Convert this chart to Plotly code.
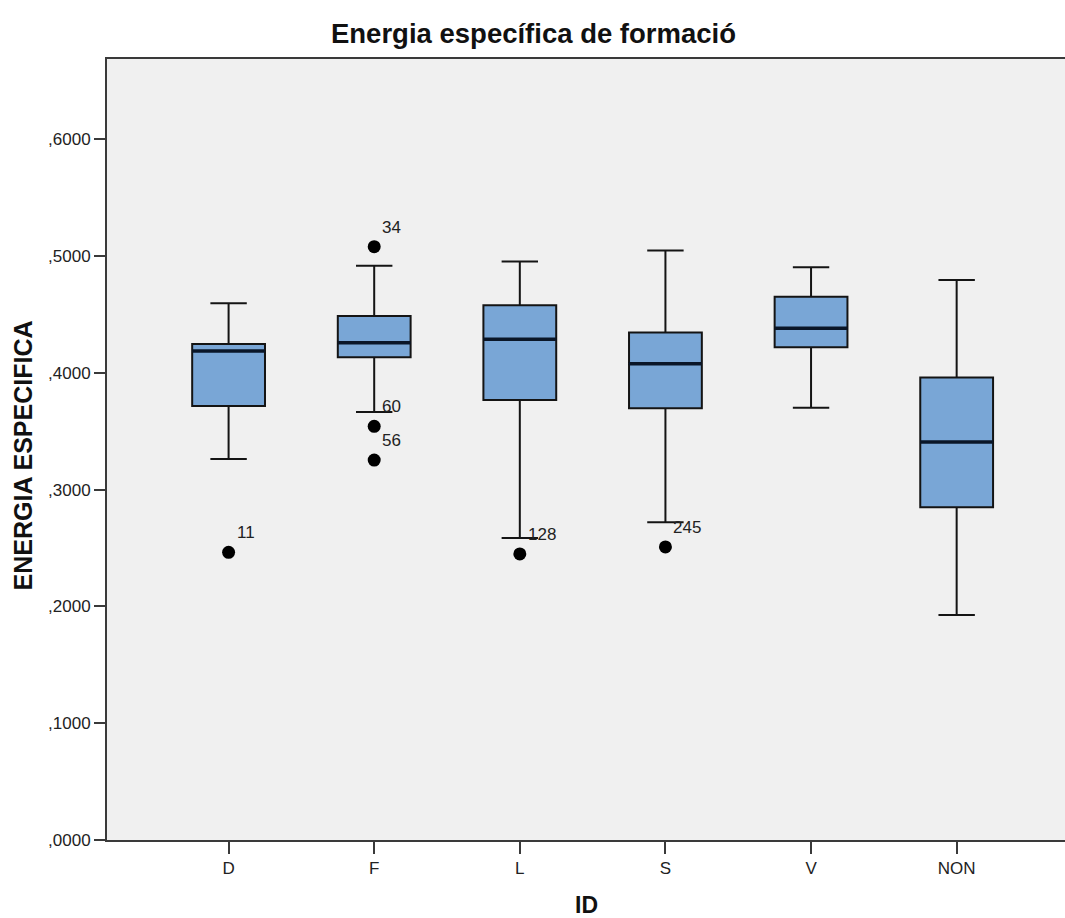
import plotly.graph_objects as go

# Box-plot statistics of ENERGIA ESPECIFICA per ID group
categories = ["D", "F", "L", "S", "V", "NON"]
q1 = [0.3716, 0.4133, 0.3767, 0.3696, 0.4218, 0.2848]
median = [0.4187, 0.4258, 0.4287, 0.4078, 0.4381, 0.3408]
q3 = [0.4247, 0.4486, 0.4578, 0.4346, 0.4652, 0.3961]
lower_whisker = [0.3262, 0.3664, 0.2586, 0.2720, 0.3701, 0.1926]
upper_whisker = [0.4595, 0.4917, 0.4954, 0.5048, 0.4903, 0.4795]

# Outlying cases with their case numbers
outlier_cat = ["D", "F", "F", "F", "L", "S"]
outlier_val = [0.2463, 0.5080, 0.3542, 0.3253, 0.2449, 0.2509]
outlier_id = ["11", "34", "60", "56", "128", "245"]

y_tickvals = [0.0, 0.1, 0.2, 0.3, 0.4, 0.5, 0.6]
y_ticktext = [",0000", ",1000", ",2000", ",3000", ",4000", ",5000", ",6000"]

BOX_W = 0.5
FONT = "Liberation Sans, Arial, sans-serif"

fig = go.Figure()

fig.add_trace(go.Box(
    x=categories,
    q1=q1, median=median, q3=q3,
    lowerfence=lower_whisker, upperfence=upper_whisker,
    boxpoints=False,
    width=BOX_W,
    whiskerwidth=0.5,
    fillcolor="#79a6d6",
    line=dict(color="#141414", width=2),
    showlegend=False,
    hoverinfo="skip",
))

fig.add_trace(go.Scatter(
    x=outlier_cat, y=outlier_val,
    mode="markers",
    marker=dict(color="#000000", size=13),
    showlegend=False,
    hoverinfo="skip",
))

# Thick median bars drawn over each box
for i, m in enumerate(median):
    fig.add_shape(type="line", xref="x", yref="y",
                  x0=i - BOX_W / 2, x1=i + BOX_W / 2, y0=m, y1=m,
                  line=dict(color="#0a1628", width=3.5))

# Case-number labels next to outliers
for c, v, t in zip(outlier_cat, outlier_val, outlier_id):
    fig.add_annotation(x=c, y=v, text=t, showarrow=False,
                       xanchor="left", yanchor="middle",
                       xshift=6, yshift=19.5,
                       font=dict(family=FONT, size=17, color="#222222"))

# Axis titles
fig.add_annotation(xref="paper", yref="paper", x=0.5, y=-0.0835,
                   text="<b>ID</b>", showarrow=False,
                   xanchor="center", yanchor="middle",
                   font=dict(family=FONT, size=23, color="#111111"))
fig.add_annotation(xref="paper", yref="paper", x=-0.0872, y=0.493,
                   text="<b>ENERGIA ESPECIFICA</b>", showarrow=False,
                   textangle=-90, xanchor="center", yanchor="middle",
                   font=dict(family=FONT, size=25, color="#111111"))

fig.update_layout(
    width=1065, height=918,
    margin=dict(l=107, r=0, t=59, b=78),
    paper_bgcolor="#ffffff",
    plot_bgcolor="#f0f0f0",
    title=dict(text="<b>Energia específica de formació</b>",
               x=533.5 / 1065, xanchor="center",
               y=1 - 33 / 918, yanchor="middle",
               font=dict(family=FONT, size=27.5, color="#111111")),
    xaxis=dict(
        type="category",
        categoryorder="array", categoryarray=categories,
        range=[-0.835, 5.744],
        showgrid=False, zeroline=False,
        showline=True, linecolor="#3a3a3a", linewidth=2, mirror=True,
        ticks="outside", ticklen=12, tickwidth=1.5, tickcolor="#3a3a3a",
        tickfont=dict(family=FONT, size=17, color="#222222"),
    ),
    yaxis=dict(
        range=[0, 0.6687],
        tickvals=y_tickvals, ticktext=y_ticktext,
        showgrid=False, zeroline=False,
        showline=True, linecolor="#3a3a3a", linewidth=2,
        ticks="outside", ticklen=11, tickwidth=1.5, tickcolor="#3a3a3a",
        tickfont=dict(family=FONT, size=17, color="#222222"),
    ),
)

fig.write_html("out.html")
